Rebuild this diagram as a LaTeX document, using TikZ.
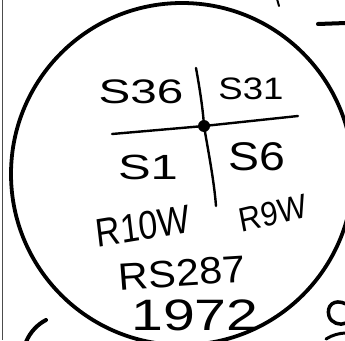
\documentclass[tikz,border=0pt]{standalone}
\usepackage{fontspec}
\setmainfont{Liberation Sans}
\tikzset{
  ink/.style={draw=black, line cap=round, line join=round},
  hand/.style={inner sep=0pt, text=black},
}
\newcommand{\fs}[1]{\fontsize{#1}{#1}\selectfont}
\begin{document}
\begin{tikzpicture}[x=1pt,y=-1pt]
\useasboundingbox (0,0) rectangle (345,340);
\fill[white] (0,0) rectangle (345,340);
\begin{scope}
\clip (0,0) rectangle (345,340);
% outer circle
\draw[ink, line width=3.8pt] (182,174) circle[radius=171];
% left border
\draw[black!70, line width=1pt] (2.5,0) -- (2.5,340);
% top marks
\draw[ink, line width=4pt] (318,24) -- (346,23);
\draw[ink, line width=2pt] (277,-1) -- (279,6);
% bottom left stroke
\draw[ink, line width=4pt] (46,320) .. controls (38,324) and (30,332) .. (26,342);
% bottom right C
\draw[ink, line width=3.5pt] (346,304) .. controls (334,298) and (326,306) .. (329,316) .. controls (331,323) and (340,326) .. (346,323);
\draw[ink, line width=3pt] (326,339) .. controls (332,335) and (340,333) .. (346,333);
\end{scope}
% centre dot and cross
\node[circle, fill=black, minimum size=12pt, inner sep=0pt] (dot) at (204,126) {};
\coordinate (north) at (196,68);
\coordinate (south) at (216,206);
\coordinate (west) at (112,134);
\coordinate (east) at (298,116);
\draw[ink, line width=2.4pt] (north) .. controls (200,90) and (203,110) .. (dot.center);
\draw[ink, line width=2.4pt] (dot.center) .. controls (208,150) and (214,180) .. (south);
\draw[ink, line width=2.4pt] (west) -- (dot.center) -- (east);
% texts
\node[hand, xscale=1.4] (s36) at (141,92) {\fs{34}S36};
\node[hand, xscale=1.18] (s31) at (251,89) {\fs{31}S31};
\node[hand, xscale=1.4] (s1) at (148,167) {\fs{35}S1};
\node[hand, xscale=1.16] (s6) at (257,157) {\fs{40}S6};
\node[hand, xscale=0.85, rotate=8] (r10w) at (143,226) {\fs{40}R10W};
\node[hand, xscale=0.9, rotate=12] (r9w) at (273,213) {\fs{34}R9W};
\node[hand, xscale=1.09, rotate=4] (rs287) at (182,273) {\fs{38}RS287};
\node[hand, xscale=1.3] (year) at (195,315) {\fs{44}1972};
\end{tikzpicture}
\end{document}
